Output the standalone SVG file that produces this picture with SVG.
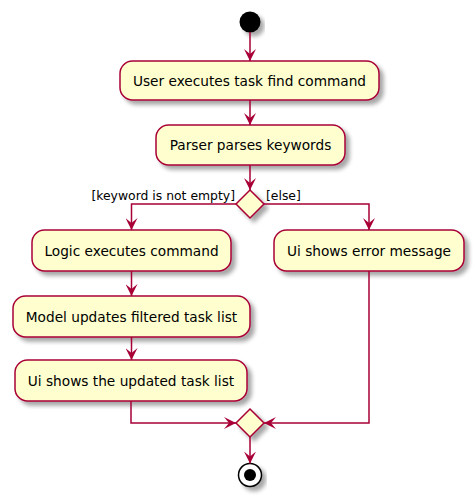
<svg xmlns="http://www.w3.org/2000/svg" width="476" height="499" viewBox="0 0 476 499">
<defs>
<filter id="sh" x="-10%" y="-20%" width="130%" height="160%">
<feGaussianBlur in="SourceAlpha" stdDeviation="2"/>
<feOffset dx="4" dy="4" result="b"/>
<feComponentTransfer><feFuncA type="linear" slope="0.35"/></feComponentTransfer>
<feMerge><feMergeNode/><feMergeNode in="SourceGraphic"/></feMerge>
</filter>
<marker id="ah" viewBox="0 0 12 12" refX="12" refY="6" markerWidth="12" markerHeight="12" markerUnits="userSpaceOnUse" orient="auto">
<path d="M0,0 L12,6 L0,12 L5,6 Z" fill="#A80036"/>
</marker>
</defs>
<style>
.box{fill:#FEFECE;stroke:#A80036;stroke-width:1.5;filter:url(#sh)}
.t{font-family:"DejaVu Sans",Verdana,sans-serif;font-size:13.7px;fill:#000;text-anchor:middle}
.g{font-family:"DejaVu Sans",Verdana,sans-serif;font-size:12.4px;fill:#000}
.c{fill:none;stroke:#A80036;stroke-width:1.5;marker-end:url(#ah)}
</style>
<g id="start"><circle cx="250" cy="22" r="10.5" fill="#000" filter="url(#sh)"/></g>
<g id="n1"><rect class="box" x="120" y="61" width="259" height="39" rx="12.5"/><text class="t" x="249.5" y="85.5">User executes task find command</text></g>
<g id="n2"><rect class="box" x="156" y="125" width="189" height="40" rx="12.5"/><text class="t" x="250.5" y="150">Parser parses keywords</text></g>
<g id="d1"><polygon class="box" points="250,190 264,204 250,218 236,204"/></g>
<g id="n3"><rect class="box" x="32" y="230" width="199" height="41" rx="12.5"/><text class="t" x="131.5" y="255.5">Logic executes command</text></g>
<g id="n4"><rect class="box" x="274" y="230" width="190" height="41" rx="12.5"/><text class="t" x="369" y="255.5">Ui shows error message</text></g>
<g id="n5"><rect class="box" x="13" y="296" width="237" height="41" rx="12.5"/><text class="t" x="131.5" y="321.5">Model updates filtered task list</text></g>
<g id="n6"><rect class="box" x="15" y="360" width="232" height="41" rx="12.5"/><text class="t" x="131" y="385.5">Ui shows the updated task list</text></g>
<g id="d2"><polygon class="box" points="250,409 264,423 250,437 236,423"/></g>
<g id="end"><circle cx="250" cy="475" r="11.5" fill="#fff" stroke="#000" stroke-width="1.5" filter="url(#sh)"/><circle cx="250" cy="475" r="6" fill="#000"/></g>
<g id="connectors">
<path class="c" d="M250,32 V61"/>
<path class="c" d="M250,100 V125"/>
<path class="c" d="M250,165 V190"/>
<path class="c" d="M236,204 H131.5 V230"/>
<path class="c" d="M264,204 H369 V230"/>
<path class="c" d="M131.5,271 V296"/>
<path class="c" d="M131.5,337 V360"/>
<path class="c" d="M131,401 V423 H236"/>
<path class="c" d="M369,271 V423 H264"/>
<path class="c" d="M250,437 V463.5"/>
<text class="g" x="235" y="200" text-anchor="end">[keyword is not empty]</text>
<text class="g" x="266" y="200">[else]</text>
</g>
</svg>
